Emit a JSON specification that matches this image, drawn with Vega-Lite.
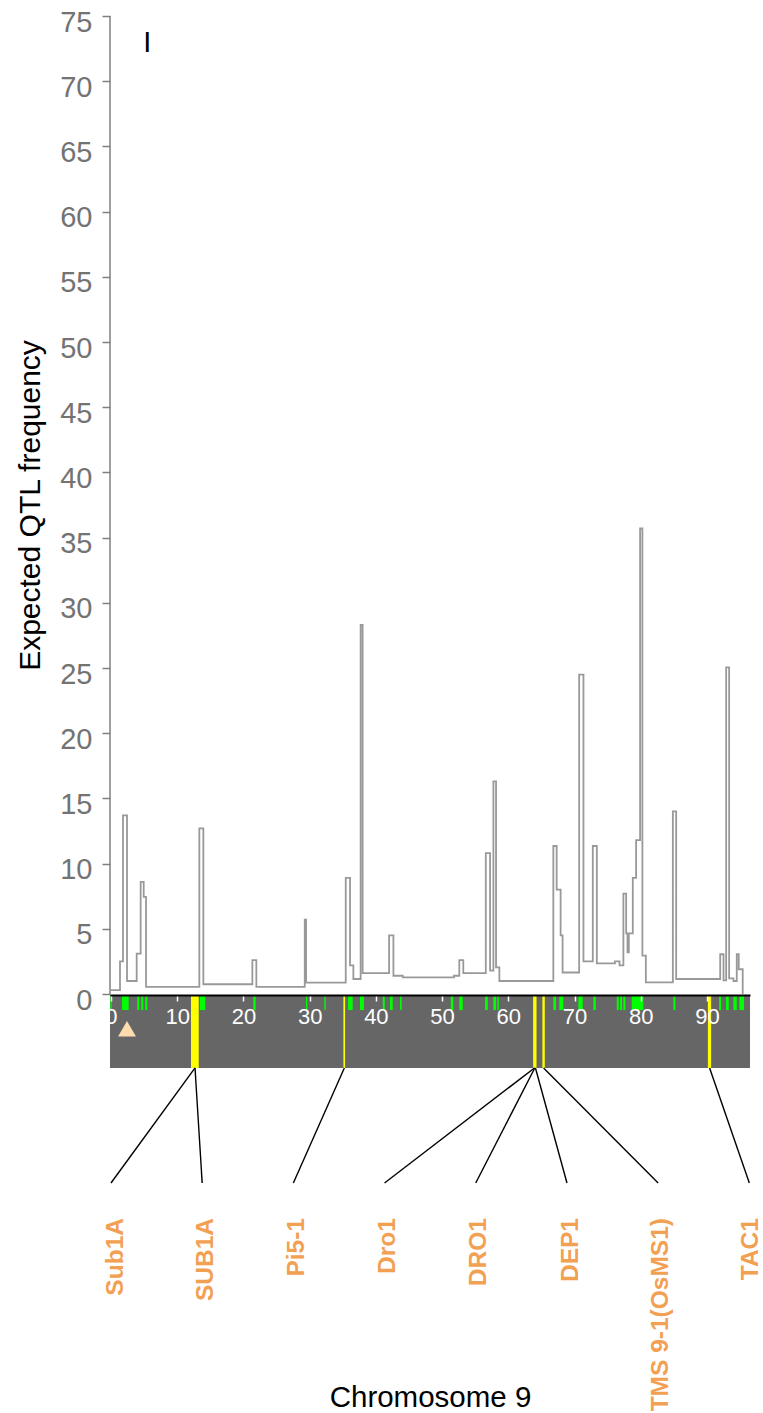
{
  "$schema": "https://vega.github.io/schema/vega-lite/v6.json",
  "width": 640,
  "height": 1397,
  "autosize": {"type": "none"},
  "padding": {"left": 110, "top": 16, "right": 13, "bottom": 0},
  "background": "white",
  "config": {"view": {"stroke": null}, "font": "Liberation Sans"},
  "datasets": {
    "qtl": [
      {"pos": 0, "freq": 0.3}, {"pos": 1.36, "freq": 2.5}, {"pos": 1.81, "freq": 13.7}, {"pos": 2.42, "freq": 1.0},
      {"pos": 3.88, "freq": 3.1}, {"pos": 4.48, "freq": 8.6}, {"pos": 4.94, "freq": 7.45}, {"pos": 5.29, "freq": 0.55},
      {"pos": 13.34, "freq": 12.7}, {"pos": 13.95, "freq": 0.75}, {"pos": 21.35, "freq": 2.6}, {"pos": 21.95, "freq": 0.55},
      {"pos": 29.26, "freq": 5.7}, {"pos": 29.46, "freq": 0.87}, {"pos": 35.45, "freq": 8.9}, {"pos": 36.1, "freq": 2.2},
      {"pos": 36.6, "freq": 1.15}, {"pos": 37.7, "freq": 28.3}, {"pos": 38.0, "freq": 1.6}, {"pos": 42.0, "freq": 4.5},
      {"pos": 42.65, "freq": 1.4}, {"pos": 44.06, "freq": 1.28}, {"pos": 51.8, "freq": 1.4}, {"pos": 52.6, "freq": 2.6},
      {"pos": 53.2, "freq": 1.6}, {"pos": 56.6, "freq": 10.8}, {"pos": 57.25, "freq": 1.8}, {"pos": 57.75, "freq": 16.3},
      {"pos": 58.15, "freq": 2.05}, {"pos": 58.65, "freq": 1.0}, {"pos": 66.8, "freq": 11.35}, {"pos": 67.3, "freq": 8.0},
      {"pos": 67.9, "freq": 4.5}, {"pos": 68.2, "freq": 1.65}, {"pos": 70.7, "freq": 24.5}, {"pos": 71.35, "freq": 2.5},
      {"pos": 72.76, "freq": 11.35}, {"pos": 73.37, "freq": 2.35}, {"pos": 76.1, "freq": 2.5}, {"pos": 76.8, "freq": 2.2},
      {"pos": 77.38, "freq": 7.7}, {"pos": 77.8, "freq": 4.65}, {"pos": 78.0, "freq": 3.2}, {"pos": 78.2, "freq": 4.65},
      {"pos": 78.8, "freq": 8.9}, {"pos": 79.3, "freq": 11.8}, {"pos": 79.9, "freq": 35.7}, {"pos": 80.25, "freq": 2.95},
      {"pos": 80.77, "freq": 0.9}, {"pos": 84.85, "freq": 14.0}, {"pos": 85.35, "freq": 1.15}, {"pos": 92.0, "freq": 3.05},
      {"pos": 92.5, "freq": 1.05}, {"pos": 92.9, "freq": 25.05}, {"pos": 93.35, "freq": 1.2}, {"pos": 94.0, "freq": 1.0},
      {"pos": 94.5, "freq": 3.05}, {"pos": 94.8, "freq": 1.9}, {"pos": 95.4, "freq": 0}
    ],
    "markers": [
      {"start": -0.1, "end": 0.1}, {"start": 1.66, "end": 2.67}, {"start": 3.97, "end": 4.27}, {"start": 4.58, "end": 4.88},
      {"start": 5.18, "end": 5.48}, {"start": 13.44, "end": 14.24}, {"start": 21.49, "end": 21.85}, {"start": 29.45, "end": 29.65},
      {"start": 32.22, "end": 32.43}, {"start": 35.8, "end": 36.5}, {"start": 37.6, "end": 38.2}, {"start": 41.04, "end": 41.34},
      {"start": 42.14, "end": 42.55}, {"start": 43.65, "end": 43.9}, {"start": 51.31, "end": 51.7}, {"start": 52.6, "end": 53.12},
      {"start": 56.49, "end": 56.9}, {"start": 57.74, "end": 58.15}, {"start": 58.35, "end": 58.56}, {"start": 66.8, "end": 67.2},
      {"start": 67.71, "end": 68.31}, {"start": 70.58, "end": 71.24}, {"start": 72.84, "end": 73.21}, {"start": 76.38, "end": 76.68},
      {"start": 76.88, "end": 77.18}, {"start": 77.38, "end": 77.68}, {"start": 78.64, "end": 80.4}, {"start": 84.93, "end": 85.23},
      {"start": 91.83, "end": 92.13}, {"start": 92.88, "end": 93.29}, {"start": 93.99, "end": 94.5}, {"start": 94.9, "end": 95.6}
    ],
    "bands": [
      {"start": 12.08, "end": 13.25}, {"start": 35.1, "end": 35.35}, {"start": 63.75, "end": 64.26},
      {"start": 65.15, "end": 65.51}, {"start": 90.14, "end": 90.63}
    ],
    "genes": [
      {"gene": "Sub1A", "pos": 12.69, "slot": 0, "lx": 0.8},
      {"gene": "SUB1A", "pos": 12.69, "slot": 13.77, "lx": 14.4},
      {"gene": "Pi5-1", "pos": 35.24, "slot": 27.54, "lx": 28.1},
      {"gene": "Dro1", "pos": 63.95, "slot": 41.31, "lx": 41.9},
      {"gene": "DRO1", "pos": 64.0, "slot": 55.08, "lx": 55.6},
      {"gene": "DEP1", "pos": 64.1, "slot": 68.86, "lx": 69.4},
      {"gene": "TMS 9-1(OsMS1)", "pos": 65.33, "slot": 82.63, "lx": 83.1},
      {"gene": "TAC1", "pos": 90.4, "slot": 96.4, "lx": 96.6}
    ]
  },
  "layer": [
    {
      "data": {"values": [{"start": -0.15, "end": 96.5}]},
      "mark": {"type": "rect", "color": "#666666"},
      "encoding": {
        "x": {"field": "start", "type": "quantitative",
          "scale": {"domain": [-0.15, 96.5], "nice": false, "zero": false},
          "axis": {
            "orient": "bottom", "offset": -418, "values": [0, 10, 20, 30, 40, 50, 60, 70, 80, 90],
            "domain": true, "domainColor": "#000000", "domainWidth": 2,
            "ticks": true, "tickColor": "#ffffff", "tickSize": 6, "tickWidth": 1.5,
            "labels": true, "labelColor": "#ffffff", "labelFontSize": 22, "labelPadding": 5,
            "labelFlush": false, "labelOverlap": false, "labelBound": false,
            "grid": false, "zindex": 1,
            "title": "Chromosome 9", "titleFontSize": 29.5, "titleFontWeight": "normal", "titleColor": "#000000",
            "titleX": 320, "titleY": 411, "titleBaseline": "alphabetic", "titleAlign": "center"
          }
        },
        "x2": {"field": "end"},
        "y": {"datum": -0.08, "type": "quantitative",
          "scale": {"domain": [-32.13, 75], "nice": false, "zero": false},
          "axis": {
            "values": [0, 5, 10, 15, 20, 25, 30, 35, 40, 45, 50, 55, 60, 65, 70, 75],
            "domain": false, "grid": false,
            "tickColor": "#808080", "tickSize": 8, "tickWidth": 1.5,
            "labelColor": "#737373", "labelFontSize": 29, "labelPadding": 10,
            "labelBaseline": "alphabetic", "labelOffset": 15, "labelOverlap": false, "labelBound": false,
            "title": "Expected QTL frequency", "titleFontSize": 30, "titleFontWeight": "normal", "titleColor": "#000000",
            "titleX": -71, "titleY": 489, "titleAngle": 270, "titleBaseline": "alphabetic", "titleAlign": "center"
          }
        },
        "y2": {"datum": -5.67}
      }
    },
    {
      "data": {"name": "markers"},
      "mark": {"type": "rect", "color": "#00ff00"},
      "encoding": {
        "x": {"field": "start", "type": "quantitative", "scale": {"domain": [-0.15, 96.5], "nice": false, "zero": false}},
        "x2": {"field": "end"},
        "y": {"datum": -0.15, "type": "quantitative", "scale": {"domain": [-32.13, 75], "nice": false, "zero": false}},
        "y2": {"datum": -1.23}
      }
    },
    {
      "data": {"name": "bands"},
      "mark": {"type": "rect", "color": "#ffff00"},
      "encoding": {
        "x": {"field": "start", "type": "quantitative", "scale": {"domain": [-0.15, 96.5], "nice": false, "zero": false}},
        "x2": {"field": "end"},
        "y": {"datum": -0.08, "type": "quantitative", "scale": {"domain": [-32.13, 75], "nice": false, "zero": false}},
        "y2": {"datum": -5.67}
      }
    },
    {
      "data": {"values": [{"start": -0.15, "lo": 0, "hi": 75}]},
      "mark": {"type": "rule", "color": "#808080", "strokeWidth": 1.5},
      "encoding": {
        "x": {"field": "start", "type": "quantitative", "scale": {"domain": [-0.15, 96.5], "nice": false, "zero": false}},
        "y": {"field": "lo", "type": "quantitative", "scale": {"domain": [-32.13, 75], "nice": false, "zero": false}},
        "y2": {"field": "hi"}
      }
    },
    {
      "data": {"name": "qtl"},
      "mark": {"type": "line", "interpolate": "step-after", "color": "#999999", "strokeWidth": 1.8},
      "encoding": {
        "x": {"field": "pos", "type": "quantitative", "scale": {"domain": [-0.15, 96.5], "nice": false, "zero": false}},
        "y": {"field": "freq", "type": "quantitative", "scale": {"domain": [-32.13, 75], "nice": false, "zero": false}}
      }
    },
    {
      "data": {"name": "genes"},
      "mark": {"type": "rule", "color": "#000000", "strokeWidth": 1.4},
      "encoding": {
        "x": {"field": "pos", "type": "quantitative", "scale": {"domain": [-0.15, 96.5], "nice": false, "zero": false}},
        "x2": {"field": "slot"},
        "y": {"datum": -5.67, "type": "quantitative", "scale": {"domain": [-32.13, 75], "nice": false, "zero": false}},
        "y2": {"datum": -14.49}
      }
    },
    {
      "data": {"name": "genes"},
      "mark": {"type": "text", "angle": 270, "align": "right", "baseline": "middle", "fontSize": 24.5, "fontWeight": "bold", "color": "#f2a052"},
      "encoding": {
        "x": {"field": "lx", "type": "quantitative", "scale": {"domain": [-0.15, 96.5], "nice": false, "zero": false}},
        "y": {"datum": -17.18, "type": "quantitative", "scale": {"domain": [-32.13, 75], "nice": false, "zero": false}},
        "text": {"field": "gene"}
      }
    },
    {
      "data": {"values": [{"centromere": 2.42}]},
      "mark": {"type": "point", "shape": "triangle-up", "filled": true, "size": 320, "color": "#ffdcae", "opacity": 1},
      "encoding": {
        "x": {"field": "centromere", "type": "quantitative", "scale": {"domain": [-0.15, 96.5], "nice": false, "zero": false}},
        "y": {"datum": -2.67, "type": "quantitative", "scale": {"domain": [-32.13, 75], "nice": false, "zero": false}}
      }
    },
    {
      "data": {"values": [{"panel": "I"}]},
      "mark": {"type": "text", "align": "center", "baseline": "alphabetic", "fontSize": 29, "color": "#000000"},
      "encoding": {
        "x": {"datum": 5.48, "type": "quantitative", "scale": {"domain": [-0.15, 96.5], "nice": false, "zero": false}},
        "y": {"datum": 72.26, "type": "quantitative", "scale": {"domain": [-32.13, 75], "nice": false, "zero": false}},
        "text": {"field": "panel"}
      }
    }
  ]
}
